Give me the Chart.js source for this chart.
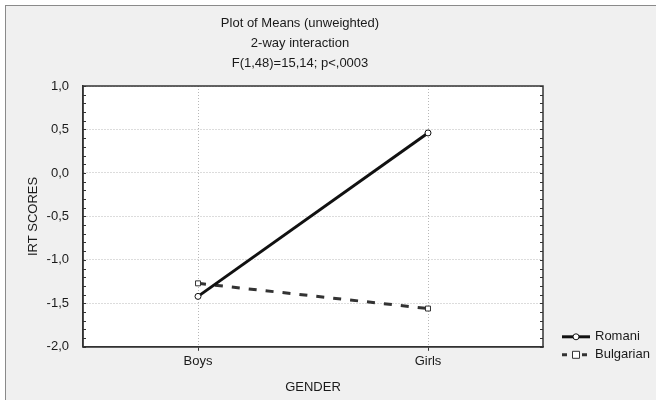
<!DOCTYPE html>
<html>
<head>
<meta charset="utf-8">
<title>Plot of Means (unweighted)</title>
<script src="https://cdn.jsdelivr.net/npm/chart.js@4.4.1/dist/chart.umd.min.js"></script>
<style>
  html, body { margin: 0; padding: 0; background: #fff; }
  #wrap { position: relative; width: 656px; height: 400px; overflow: hidden; }
  #frame { position: absolute; left: 5px; top: 5px; width: 700px; height: 500px; border: 1px solid #8a8a8a; background: #f0f0f0; }
  #chartMedias { position: absolute; left: 0; top: 0; }
</style>
</head>
<body>
<div id="wrap">
  <div id="frame"></div>
  <canvas id="chartMedias" width="656" height="400"></canvas>
</div>
<script>
// datos
const grupos = ["Boys", "Girls"];
const romani = [-1.42, 0.46];
const bulgarian = [-1.27, -1.56];
const yTicks = [-2.0, -1.5, -1.0, -0.5, 0.0, 0.5, 1.0];
const titulo = ["Plot of Means (unweighted)", "2-way interaction", "F(1,48)=15,14; p<,0003"];

const FONT = "'Liberation Sans', Arial, sans-serif";
const INK = "#1a1a1a";

// fondo blanco, marco, marcas menores y leyenda
const marco = {
  id: "marco",
  beforeDraw(chart) {
    const { ctx, chartArea: a } = chart;
    ctx.save();
    ctx.fillStyle = "#fff";
    ctx.fillRect(a.left, a.top, a.right - a.left, a.bottom - a.top);
    ctx.restore();
  },
  afterDatasetsDraw(chart) {
    const { ctx, chartArea: a, scales } = chart;
    ctx.save();
    ctx.strokeStyle = "#333";
    ctx.lineWidth = 1.5;
    ctx.strokeRect(a.left, a.top, a.right - a.left, a.bottom - a.top);
    ctx.lineWidth = 1;
    ctx.beginPath();
    for (let i = 0; i <= 30; i++) {
      const y = Math.round(scales.y.getPixelForValue(-2 + i / 10)) + 0.5;
      ctx.moveTo(a.left, y); ctx.lineTo(a.left + 3, y);
      ctx.moveTo(a.right, y); ctx.lineTo(a.right - 3, y);
    }
    ctx.stroke();
    ctx.restore();
  },
  afterDraw(chart) {
    const { ctx, chartArea: a } = chart;
    ctx.save();
    chart.data.datasets.forEach((ds, i) => {
      const x0 = a.right + 19, x1 = x0 + 28, y = a.bottom - 10 + i * 18;
      const xc = (x0 + x1) / 2;
      ctx.strokeStyle = ds.borderColor;
      ctx.lineWidth = ds.borderWidth;
      ctx.setLineDash(ds.borderDash ? [5, 5] : []);
      ctx.beginPath(); ctx.moveTo(x0, y); ctx.lineTo(x1, y); ctx.stroke();
      ctx.setLineDash([]);
      ctx.lineWidth = 1;
      ctx.fillStyle = "#fff";
      ctx.beginPath();
      if (ds.pointStyle === "rect") ctx.rect(xc - 3.5, y - 3.5, 7, 7);
      else ctx.arc(xc, y, 3, 0, Math.PI * 2);
      ctx.fill(); ctx.stroke();
      ctx.fillStyle = INK;
      ctx.font = "13px " + FONT;
      ctx.textBaseline = "middle";
      ctx.fillText(ds.label, x1 + 5, y);
    });
    ctx.restore();
  },
};

const el = document.getElementById("chartMedias");
new Chart(el, {
  type: "line",
  data: {
    labels: grupos,
    datasets: [
      {
        label: "Romani", data: romani,
        borderColor: "#111", borderWidth: 3,
        pointStyle: "circle", pointRadius: 3, pointBorderWidth: 1,
        pointBackgroundColor: "#fff", pointBorderColor: "#111",
      },
      {
        label: "Bulgarian", data: bulgarian,
        borderColor: "#333", borderWidth: 3, borderDash: [8, 9],
        pointStyle: "rect", pointRadius: 3.5, pointBorderWidth: 1,
        pointBackgroundColor: "#fff", pointBorderColor: "#333",
      },
    ],
  },
  options: {
    responsive: false,
    animation: false,
    devicePixelRatio: 1,
    layout: { padding: { left: 0, right: 56, top: 0, bottom: 0 } },
    plugins: {
      legend: { display: false },
      tooltip: { enabled: false },
      title: {
        display: true, text: titulo, color: INK,
        font: { family: FONT, size: 13, weight: "normal", lineHeight: 20 / 13 },
        padding: { top: 13, bottom: 13 },
      },
    },
    scales: {
      x: {
        offset: true,
        grid: { offset: false, color: "#b8b8b8", drawTicks: true, tickLength: 4, tickColor: "#333", tickBorderDash: [] },
        border: { display: true, color: "#333", width: 1.5, dash: [1, 2] },
        ticks: { color: INK, padding: 3, font: { family: FONT, size: 13 } },
        title: { display: true, text: "GENDER", color: INK, font: { family: FONT, size: 13 }, padding: { top: 7, bottom: 5 } },
      },
      y: {
        min: -2, max: 1,
        afterBuildTicks: (s) => { s.ticks = yTicks.map((v) => ({ value: v })); },
        afterFit: (s) => { s.width = 83; },
        grid: { color: "#b8b8b8", drawTicks: false },
        border: { display: true, color: "#333", width: 1.5, dash: [1, 2] },
        ticks: {
          color: INK, padding: 14, font: { family: FONT, size: 13 },
          callback: (v) => Number(v).toFixed(1).replace(".", ","),
        },
        title: { display: true, text: "IRT SCORES", color: INK, font: { family: FONT, size: 13 }, padding: { top: 26, bottom: 0 } },
      },
      y2: {
        position: "right", min: -2, max: 1,
        afterFit: (s) => { s.width = 57; },
        grid: { display: false },
        border: { display: false },
        ticks: { display: false },
      },
    },
  },
  plugins: [marco],
});
</script>
</body>
</html>
